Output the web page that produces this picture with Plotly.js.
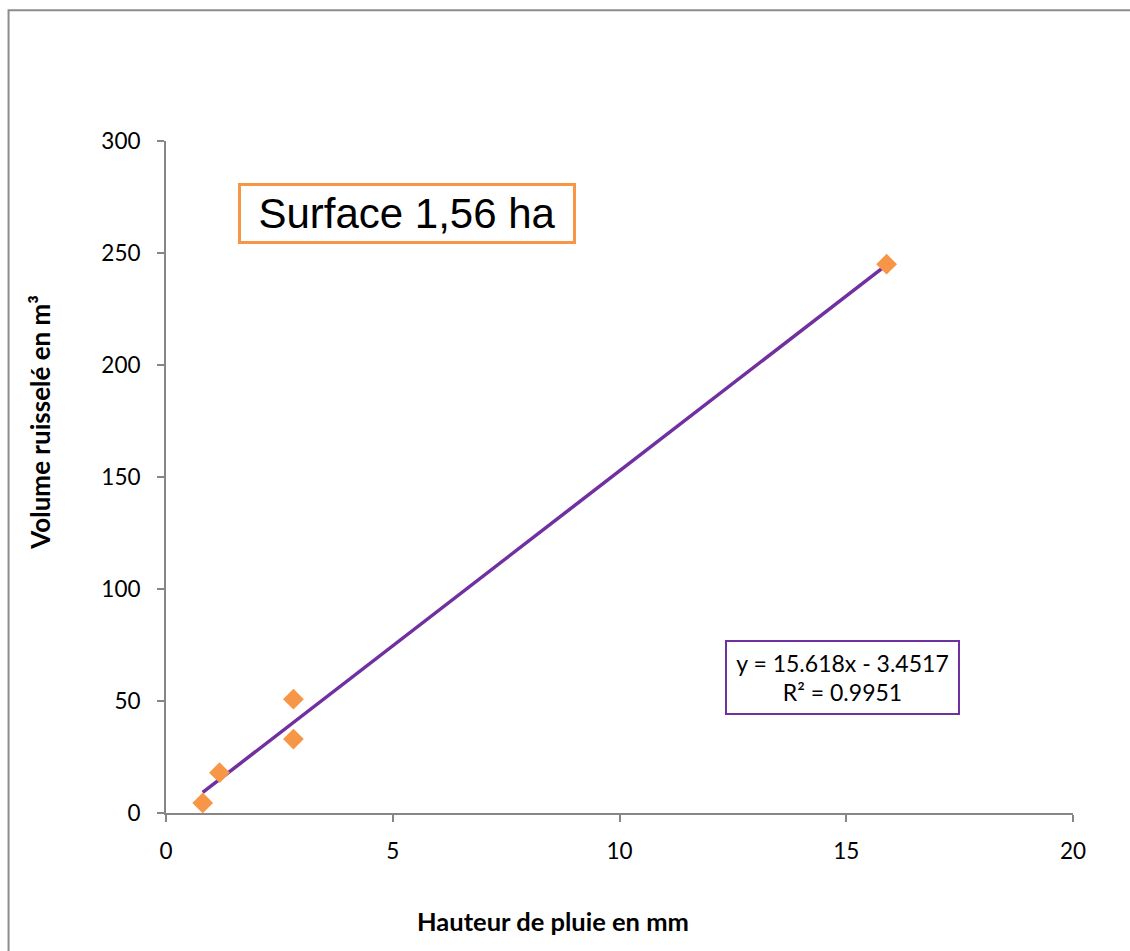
<!DOCTYPE html>
<html>
<head>
<meta charset="utf-8">
<script src="https://cdn.plot.ly/plotly-3.0.1.min.js"></script>
<style>html,body{margin:0;padding:0;background:#fff;}#chart{width:1130px;height:951px;}</style>
</head>
<body>
<div id="chart"></div>
<script>
// Data
const hauteurPluie = [0.81, 1.18, 2.81, 2.81, 15.89];   // mm
const volumeRuissele = [4.5, 18.0, 50.8, 33.0, 245.0]; // m3
// Trend line coefficients as printed on the chart
const trendSlope = 15.618;
const trendIntercept = -3.4517;
const trendR2 = 0.9951;
const xTicks = [0, 5, 10, 15, 20];
const yTicks = [0, 50, 100, 150, 200, 250, 300];

const xMin = Math.min(...hauteurPluie), xMax = Math.max(...hauteurPluie);
const trendX = [xMin, xMax];
const trendY = trendX.map(x => trendSlope * x + trendIntercept);

const ORANGE = '#F79646', PURPLE = '#7030A0', AXIS = '#868686';
const FONT = 'Lato, "Noto Sans", sans-serif';

const traces = [
  { x: trendX, y: trendY, type: 'scatter', mode: 'lines',
    line: { color: PURPLE, width: 3.5 }, hoverinfo: 'skip', showlegend: false },
  { x: hauteurPluie, y: volumeRuissele, type: 'scatter', mode: 'markers',
    marker: { symbol: 'diamond', size: 16, color: ORANGE }, showlegend: false }
];

const layout = {
  width: 1130, height: 951,
  margin: { l: 165.7, r: 56.7, t: 140.7, b: 138.3 },
  paper_bgcolor: '#fff', plot_bgcolor: '#fff',
  font: { family: FONT, size: 22, color: '#000' },
  showlegend: false,
  xaxis: {
    range: [0, 20], tickvals: xTicks, ticktext: xTicks.map(String),
    showgrid: false, zeroline: false, showline: true, linecolor: AXIS, linewidth: 2,
    ticks: 'outside', ticklen: 7, tickwidth: 2, tickcolor: AXIS, ticklabelstandoff: 10,
    tickfont: { family: FONT, size: 22.5, color: '#000' }
  },
  yaxis: {
    range: [0, 300], tickvals: yTicks, ticktext: yTicks.map(String),
    showgrid: false, zeroline: false, showline: true, linecolor: AXIS, linewidth: 2,
    ticks: 'outside', ticklen: 7, tickwidth: 2, tickcolor: AXIS, ticklabelstandoff: 12,
    tickfont: { family: FONT, size: 22.5, color: '#000' }
  },
  shapes: [
    { type: 'rect', xref: 'paper', yref: 'paper', x0: -0.1736, x1: 2, y0: -1, y1: 1.1945,
      line: { color: '#8c8c8c', width: 2 }, fillcolor: 'rgba(0,0,0,0)', layer: 'below' }
  ],
  annotations: [
    { text: 'Surface 1,56 ha', xref: 'paper', yref: 'paper',
      x: (407 - 165.7) / 907.6, y: (812.7 - 213.5) / 672, xanchor: 'center', yanchor: 'middle',
      showarrow: false, font: { family: 'Liberation Sans, Arial, sans-serif', size: 42, color: '#000' },
      bordercolor: ORANGE, borderwidth: 3, borderpad: 0, bgcolor: '#fff', width: 332, height: 55 },
    { text: 'y = ' + trendSlope + 'x - ' + Math.abs(trendIntercept) + '<br>R² = ' + trendR2,
      xref: 'paper', yref: 'paper',
      x: (842.5 - 165.7) / 907.6, y: (812.7 - 677.5) / 672, xanchor: 'center', yanchor: 'middle',
      showarrow: false, align: 'center', font: { family: FONT, size: 23, color: '#000' },
      bordercolor: PURPLE, borderwidth: 2, borderpad: 0, bgcolor: '#fff', width: 231, height: 71 },
    { text: '<b>Hauteur de pluie en mm</b>', xref: 'paper', yref: 'paper',
      x: (553 - 165.7) / 907.6, y: (812.7 - 921) / 672, xanchor: 'center', yanchor: 'middle',
      showarrow: false, font: { family: FONT, size: 25.5, color: '#000' } },
    { text: '<b>Volume ruisselé en m³</b>', xref: 'paper', yref: 'paper',
      x: (40 - 165.7) / 907.6, y: (812.7 - 422) / 672, xanchor: 'center', yanchor: 'middle',
      textangle: -90, showarrow: false, font: { family: FONT, size: 26, color: '#000' } }
  ]
};

Plotly.newPlot('chart', traces, layout, { displayModeBar: false, staticPlot: true });
</script>
</body>
</html>
